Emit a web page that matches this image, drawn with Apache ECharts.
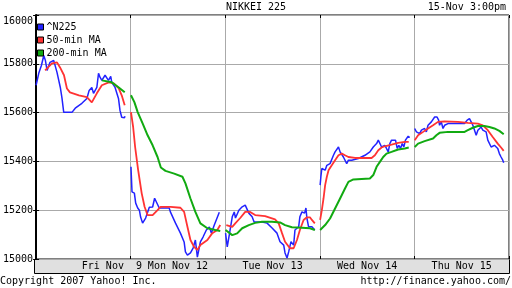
<!DOCTYPE html>
<html><head><meta charset="utf-8">
<script src="https://cdn.jsdelivr.net/npm/echarts@6/dist/echarts.min.js"></script>
<style>html,body{margin:0;padding:0;background:#fff}#c{width:512px;height:288px}</style>
</head><body><div id="c"></div>
<script>
// time unit: trading days since the open of Fri Nov 9 (each day = 1)
const dayLabels = ['Fri Nov  9', 'Mon Nov 12', 'Tue Nov 13', 'Wed Nov 14', 'Thu Nov 15'];
const seriesNames = ['^N225', '50-min MA', '200-min MA'];

const n225Days = [
  [[0.000,15712],[0.028,15761],[0.056,15793],[0.081,15834],[0.098,15814],[0.116,15773],[0.147,15806],[0.186,15814],[0.203,15806],[0.221,15765],[0.256,15703],[0.274,15658],[0.292,15601],[0.379,15601],[0.414,15618],[0.484,15638],[0.537,15658],[0.561,15691],[0.589,15703],[0.607,15679],[0.642,15703],[0.660,15761],[0.677,15744],[0.695,15732],[0.729,15753],[0.765,15732],[0.789,15748],[0.800,15724],[0.835,15703],[0.871,15658],[0.887,15609],[0.905,15581],[0.934,15579],[0.940,15585]],
  [[1.003,15378],[1.014,15275],[1.039,15270],[1.053,15229],[1.074,15209],[1.092,15200],[1.105,15172],[1.126,15147],[1.144,15147],[1.158,15168],[1.179,15192],[1.197,15212],[1.232,15213],[1.253,15249],[1.274,15241],[1.302,15209],[1.337,15209],[1.407,15209],[1.421,15192],[1.474,15147],[1.526,15106],[1.565,15070],[1.579,15029],[1.600,15016],[1.632,15025],[1.660,15045],[1.684,15078],[1.705,15008],[1.737,15070],[1.765,15090],[1.800,15119],[1.832,15131],[1.853,15106],[1.884,15139],[1.905,15160],[1.937,15192]],
  [[2.003,15106],[2.021,15050],[2.039,15091],[2.074,15173],[2.095,15193],[2.108,15168],[2.144,15200],[2.179,15214],[2.211,15221],[2.249,15188],[2.284,15173],[2.305,15152],[2.389,15152],[2.442,15147],[2.495,15127],[2.547,15106],[2.579,15071],[2.618,15057],[2.632,15025],[2.653,15004],[2.671,15030],[2.695,15071],[2.723,15057],[2.737,15119],[2.776,15132],[2.789,15173],[2.811,15193],[2.839,15188],[2.853,15209],[2.863,15168],[2.881,15132],[2.916,15132],[2.947,15119]],
  [[3.003,15303],[3.011,15337],[3.021,15371],[3.039,15378],[3.056,15364],[3.074,15384],[3.092,15378],[3.108,15391],[3.126,15384],[3.144,15425],[3.161,15439],[3.179,15446],[3.197,15459],[3.214,15439],[3.232,15446],[3.249,15418],[3.266,15412],[3.284,15391],[3.302,15405],[3.337,15405],[3.407,15412],[3.477,15425],[3.529,15439],[3.565,15459],[3.600,15473],[3.618,15487],[3.635,15480],[3.653,15459],[3.670,15453],[3.687,15466],[3.705,15453],[3.723,15439],[3.740,15473],[3.758,15487],[3.776,15494],[3.800,15487],[3.818,15453],[3.835,15466],[3.853,15453],[3.871,15473],[3.888,15459],[3.905,15487],[3.923,15494],[3.934,15503],[3.951,15498]],
  [[4.003,15535],[4.021,15521],[4.039,15528],[4.056,15514],[4.074,15528],[4.092,15521],[4.108,15535],[4.126,15521],[4.144,15548],[4.161,15548],[4.179,15562],[4.197,15569],[4.214,15582],[4.239,15582],[4.256,15569],[4.266,15548],[4.284,15562],[4.302,15535],[4.319,15548],[4.355,15555],[4.460,15555],[4.530,15555],[4.558,15569],[4.582,15575],[4.600,15562],[4.618,15548],[4.635,15541],[4.653,15507],[4.671,15528],[4.705,15541],[4.723,15528],[4.740,15535],[4.758,15521],[4.776,15487],[4.793,15480],[4.811,15459],[4.828,15466],[4.846,15466],[4.863,15473],[4.881,15453],[4.898,15432],[4.916,15418],[4.934,15405],[4.944,15394]]
];

const ma50Days = [
  [[0.095,15773],[0.168,15802],[0.221,15806],[0.253,15785],[0.295,15753],[0.326,15699],[0.358,15683],[0.453,15671],[0.537,15663],[0.589,15642],[0.642,15679],[0.695,15712],[0.768,15724],[0.821,15720],[0.874,15699],[0.905,15671],[0.937,15630]],
  [[1.003,15602],[1.026,15541],[1.047,15459],[1.079,15364],[1.116,15270],[1.147,15214],[1.179,15180],[1.232,15180],[1.284,15200],[1.316,15214],[1.421,15214],[1.526,15210],[1.565,15193],[1.600,15132],[1.632,15078],[1.670,15050],[1.705,15037],[1.737,15057],[1.811,15078],[1.863,15106],[1.916,15119],[1.947,15139]],
  [[2.011,15139],[2.074,15132],[2.108,15147],[2.158,15168],[2.211,15193],[2.263,15193],[2.316,15180],[2.421,15176],[2.526,15162],[2.565,15146],[2.600,15106],[2.632,15071],[2.684,15044],[2.723,15044],[2.758,15078],[2.789,15119],[2.828,15160],[2.863,15171],[2.895,15171],[2.916,15160],[2.947,15146]],
  [[3.003,15160],[3.021,15200],[3.039,15248],[3.056,15303],[3.074,15337],[3.092,15364],[3.126,15384],[3.161,15405],[3.197,15425],[3.232,15432],[3.266,15425],[3.302,15418],[3.372,15414],[3.547,15414],[3.582,15425],[3.618,15446],[3.653,15457],[3.687,15462],[3.758,15469],[3.828,15476],[3.898,15480],[3.940,15480]],
  [[4.003,15487],[4.039,15507],[4.092,15521],[4.144,15535],[4.197,15548],[4.249,15562],[4.319,15564],[4.460,15562],[4.565,15558],[4.671,15555],[4.723,15548],[4.776,15528],[4.828,15500],[4.881,15473],[4.916,15457],[4.944,15443]]
];

const ma200Days = [
  [[0.695,15732],[0.800,15724],[0.874,15703],[0.937,15683]],
  [[1.003,15671],[1.039,15643],[1.074,15602],[1.126,15556],[1.179,15507],[1.232,15466],[1.284,15418],[1.319,15375],[1.368,15361],[1.460,15350],[1.547,15337],[1.579,15310],[1.632,15248],[1.684,15193],[1.737,15146],[1.811,15126],[1.895,15119],[1.947,15115]],
  [[2.003,15119],[2.074,15098],[2.126,15105],[2.179,15126],[2.249,15139],[2.316,15148],[2.389,15153],[2.495,15153],[2.579,15150],[2.632,15139],[2.705,15130],[2.811,15128],[2.895,15126],[2.947,15119]],
  [[3.003,15119],[3.056,15139],[3.108,15166],[3.161,15207],[3.214,15248],[3.266,15289],[3.302,15316],[3.355,15326],[3.442,15328],[3.529,15330],[3.565,15344],[3.600,15378],[3.635,15398],[3.670,15418],[3.705,15432],[3.758,15439],[3.828,15449],[3.898,15453],[3.940,15457]],
  [[4.003,15459],[4.039,15473],[4.108,15483],[4.197,15494],[4.232,15507],[4.266,15517],[4.355,15521],[4.530,15521],[4.565,15528],[4.618,15538],[4.671,15545],[4.740,15545],[4.793,15541],[4.846,15535],[4.898,15525],[4.944,15511]]
];

function joinDays(days) {
  const out = [];
  days.forEach((d, i) => {
    if (i > 0) out.push([d[0][0] - 0.001, '-']);
    d.forEach(p => out.push(p));
  });
  return out;
}

const FONT = 'DejaVu Sans Mono';
const chart = echarts.init(document.getElementById('c'), null, {renderer: 'canvas'});
chart.setOption({
  animation: false,
  backgroundColor: '#fff',
  textStyle: {fontFamily: FONT, fontSize: 10, color: '#000'},
  grid: {left: 34, right: 3, top: 15, bottom: 29, show: true, borderColor: '#000', borderWidth: 1, backgroundColor: 'transparent'},
  graphic: [
    {type: 'rect', left: 34, top: 259, shape: {width: 475, height: 14}, style: {fill: '#e0e0e0', stroke: '#000', lineWidth: 1}, z: -1},
    {type: 'text', left: 'center', top: 2, style: {text: 'NIKKEI 225', font: '10px ' + FONT, fill: '#000'}},
    {type: 'text', right: 6, top: 2, style: {text: '15-Nov 3:00pm', font: '10px ' + FONT, fill: '#000'}},
    {type: 'text', left: 0, top: 276, style: {text: 'Copyright 2007 Yahoo! Inc.', font: '10px ' + FONT, fill: '#000'}},
    {type: 'text', right: 1, top: 276, style: {text: 'http://finance.yahoo.com/', font: '10px ' + FONT, fill: '#000'}}
  ],
  legend: {
    left: 37, top: 22, orient: 'vertical', padding: 0, itemGap: 3,
    itemWidth: 6, itemHeight: 6,
    textStyle: {fontFamily: FONT, fontSize: 10, color: '#000', padding: [0, 0, 0, -2]},
    data: seriesNames.map(n => ({name: n, icon: 'rect', itemStyle: {borderColor: '#000', borderWidth: 1}}))
  },
  xAxis: [
    {type: 'value', min: 0, max: 5, interval: 1, position: 'bottom',
     axisLine: {show: false}, axisLabel: {show: false},
     axisTick: {show: true, inside: true, length: 3, lineStyle: {color: '#000'}},
     splitLine: {show: true, lineStyle: {color: '#aaaaaa', width: 1}}},
    {type: 'category', data: dayLabels, boundaryGap: true, position: 'bottom',
     axisLine: {show: false}, axisTick: {show: false},
     axisLabel: {margin: 2, fontFamily: FONT, fontSize: 10, color: '#000', interval: 0,
       formatter: (v, i) => i === 0 ? '{f|' + v + '}' : v,
       rich: {f: {fontFamily: FONT, fontSize: 10, color: '#000', padding: [0, 0, 0, 57]}}}},
    {type: 'value', min: 0, max: 5, interval: 1, position: 'top',
     axisLine: {show: false}, axisLabel: {show: false},
     axisTick: {show: true, inside: true, length: 3, lineStyle: {color: '#000'}},
     splitLine: {show: false}}
  ],
  yAxis: [
    {type: 'value', min: 15000, max: 16000, interval: 200, position: 'left',
     axisLine: {show: true, lineStyle: {color: '#000', width: 2}},
     axisTick: {show: true, inside: true, length: 3, lineStyle: {color: '#000'}},
     axisLabel: {margin: 3, fontFamily: FONT, fontSize: 10, color: '#000',
       formatter: v => v === 16000 ? '{t|' + v + '}' : String(v),
       rich: {t: {fontFamily: FONT, fontSize: 10, color: '#000', padding: [13, 0, 0, 0]}}},
     splitLine: {show: true, lineStyle: {color: '#aaaaaa', width: 1}}},
    {type: 'value', min: 15000, max: 16000, interval: 200, position: 'right',
     axisLine: {show: true, lineStyle: {color: '#000', width: 1}},
     axisTick: {show: true, inside: true, length: 3, lineStyle: {color: '#000'}},
     axisLabel: {show: false}, splitLine: {show: false}}
  ],
  series: [
    {name: seriesNames[0], type: 'line', data: joinDays(n225Days), showSymbol: false, symbol: 'none', connectNulls: false,
     lineStyle: {color: '#2222ff', width: 1.5}, itemStyle: {color: '#2222ff'}},
    {name: seriesNames[1], type: 'line', data: joinDays(ma50Days), showSymbol: false, symbol: 'none', connectNulls: false,
     lineStyle: {color: '#ff3333', width: 1.8}, itemStyle: {color: '#ff3333'}},
    {name: seriesNames[2], type: 'line', data: joinDays(ma200Days), showSymbol: false, symbol: 'none', connectNulls: false,
     lineStyle: {color: '#11aa11', width: 2}, itemStyle: {color: '#11aa11'}}
  ]
});
</script></body></html>
